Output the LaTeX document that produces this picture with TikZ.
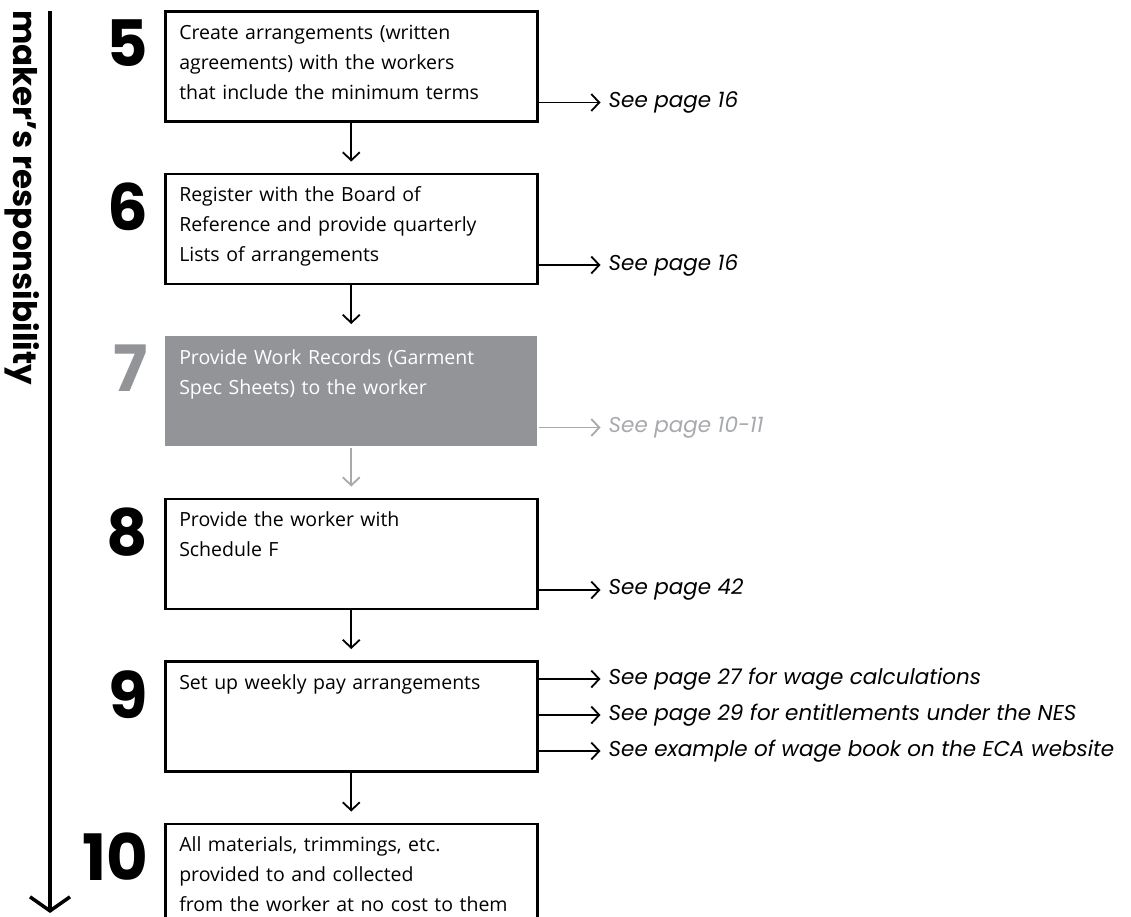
\documentclass[tikz,border=0pt]{standalone}
\usepackage{fontspec}
\setmainfont{Open Sans}
\newfontfamily\numfont{Poppins}
\usetikzlibrary{positioning,arrows.meta}
\definecolor{stepgray}{RGB}{146,148,151}
\definecolor{linkgray}{RGB}{167,169,172}

\begin{document}
\begin{tikzpicture}[x=1pt, y=-1pt,
% Step boxes
		stepbox/.style={rectangle
							    , draw=black, line width=2.5pt
							    , text width=344pt
							    , inner xsep=14pt, inner ysep=0pt
							    , text height=28pt, text depth=82pt
							    , align=left
							    , font=\fontsize{19.5}{30}\selectfont},
		greybox/.style={stepbox
							    , draw=none
							    , fill=stepgray
							    , text=white},
% Numbers and side labels
		stepnum/.style={font=\numfont\bfseries\fontsize{64}{64}\selectfont
							    , inner sep=0pt},
		seepage/.style={font=\numfont\itshape\fontsize{21.5}{24}\selectfont
							    , inner sep=0pt},
% Connectors
		flow/.style={line width=1.8pt
							    , -{Straight Barb[length=8pt, width=17pt]}
							    , shorten >=11pt},
		link/.style={line width=1.8pt
							    , -{Straight Barb[length=8pt, width=17pt]}
							    , shorten >=8pt},
		node distance=50pt
	]
	\useasboundingbox (0,0) rectangle (1131,916);
	\clip (0,0) rectangle (1131,916);

%% Responsibility bar
	\coordinate (bartop) at (50,11);
	\coordinate (barend) at (50,913);
	\draw[line width=3.5pt, -{Straight Barb[length=14pt, width=40pt]}] (bartop) -- (barend);
	\node[rotate=-90, anchor=base west, inner sep=0pt
		, font=\numfont\bfseries\fontsize{32.5}{32}\selectfont] (who) at (13,10) {maker’s responsibility};

%% Steps
	\node[stepbox, anchor=north west] (b5) at (164,10) {Create arrangements (written\\agreements) with the workers\\that include the minimum terms};
	\node[stepbox, below=of b5] (b6) {Register with the Board of\\Reference and provide quarterly\\Lists of arrangements};
	\node[greybox, below=of b6] (b7) {Provide Work Records (Garment\\Spec Sheets) to the worker};
	\node[stepbox, below=of b7] (b8) {Provide the worker with\\Schedule F};
	\node[stepbox, below=of b8] (b9) {Set up weekly pay arrangements};
	\node[stepbox, below=of b9] (b10) {All materials, trimmings, etc.\\provided to and collected\\from the worker at no cost to them};

	\node[stepnum, left=16pt of b5.north west, anchor=north east, yshift=-10pt] (n5) {5};
	\node[stepnum, left=16pt of b6.north west, anchor=north east, yshift=-10pt] (n6) {6};
	\node[stepnum, left=16pt of b7.north west, anchor=north east, yshift=-10pt, text=stepgray] (n7) {7};
	\node[stepnum, left=16pt of b8.north west, anchor=north east, yshift=-10pt] (n8) {8};
	\node[stepnum, left=16pt of b9.north west, anchor=north east, yshift=-10pt] (n9) {9};
	\node[stepnum, left=16pt of b10.north west, anchor=north east, yshift=-10pt] (n10) {10};

%% Page references
	\node[seepage, right=70pt of b5.south east, yshift=20pt] (s5) {See page 16};
	\node[seepage, right=70pt of b6.south east, yshift=20pt] (s6) {See page 16};
	\node[seepage, right=70pt of b7.south east, yshift=20pt, text=linkgray] (s7) {See page 10-11};
	\node[seepage, right=70pt of b8.south east, yshift=20pt] (s8) {See page 42};
	\node[seepage, right=70pt of b9.north east, yshift=-19pt] (s9a) {See page 27 for wage calculations};
	\node[seepage, right=70pt of b9.north east, yshift=-55pt] (s9b) {See page 29 for entitlements under the NES};
	\node[seepage, right=70pt of b9.north east, yshift=-91pt] (s9c) {See example of wage book on the ECA website};

%% Connectors
	\draw[flow] (b5) -- (b6);
	\draw[flow] (b6) -- (b7);
	\draw[flow, draw=linkgray] (b7) -- (b8);
	\draw[flow] (b8) -- (b9);
	\draw[flow] (b9) -- (b10);
	\draw[link] (b5.east |- s5.west) -- (s5.west);
	\draw[link] (b6.east |- s6.west) -- (s6.west);
	\draw[link, draw=linkgray] (b7.east |- s7.west) -- (s7.west);
	\draw[link] (b8.east |- s8.west) -- (s8.west);
	\draw[link] (b9.east |- s9a.west) -- (s9a.west);
	\draw[link] (b9.east |- s9b.west) -- (s9b.west);
	\draw[link] (b9.east |- s9c.west) -- (s9c.west);
\end{tikzpicture}
\end{document}
